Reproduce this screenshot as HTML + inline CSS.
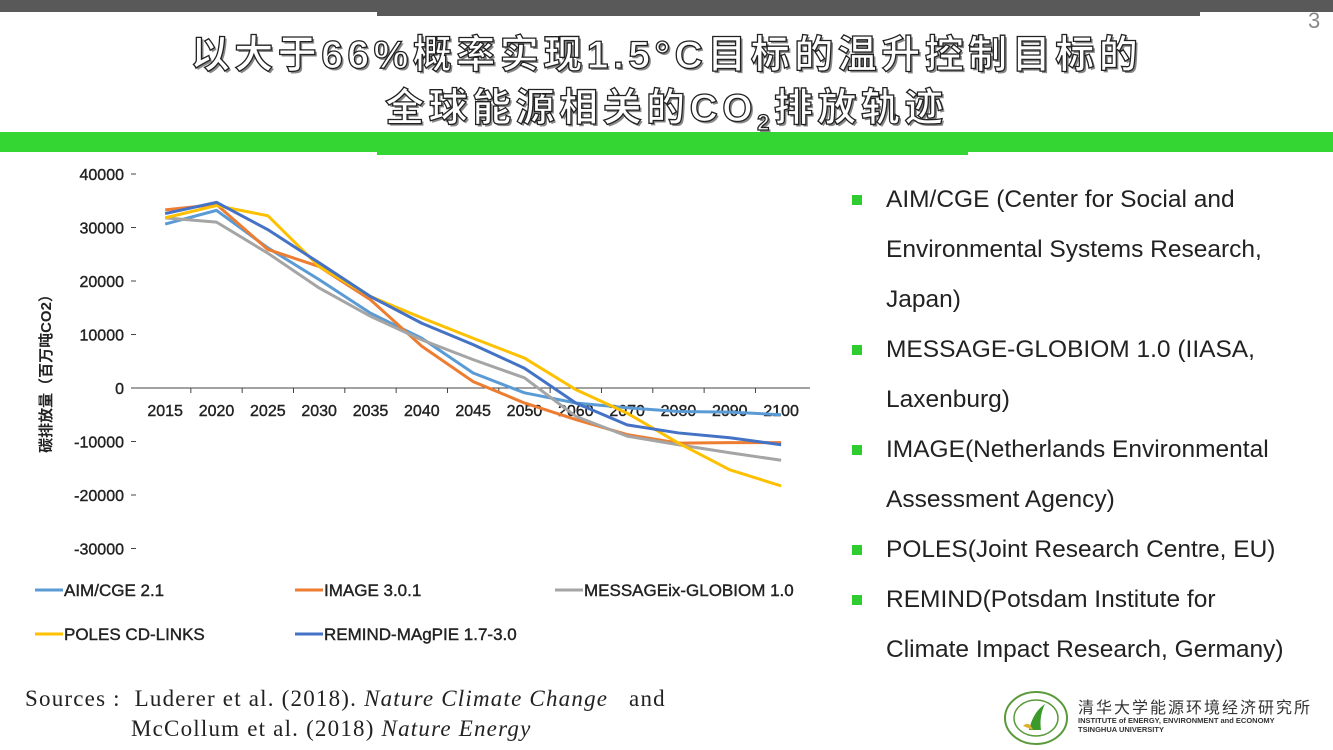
<!DOCTYPE html>
<html><head><meta charset="utf-8">
<style>
body{margin:0;width:1333px;height:750px;overflow:hidden;background:#fff;position:relative;font-family:"Liberation Sans","Noto Sans CJK SC",sans-serif;}
.abs{position:absolute;}
.title{left:0;width:1333px;text-align:center;font-size:39px;font-weight:bold;color:#fff;-webkit-text-stroke:1.3px #222;text-shadow:2px 2px 0 #888;letter-spacing:4.5px;}
.bul{left:852px;font-size:24.5px;color:#222;line-height:50px;}
.bul div{position:relative;padding-left:34px;}
.sq{position:absolute;left:0;top:20px;width:10px;height:10px;background:#2ecc2e;}
.src{font-family:"Liberation Serif","Noto Serif CJK SC",serif;font-size:23px;color:#222;letter-spacing:1.2px;}
</style></head><body>
<div class="abs" style="left:0;top:0;width:1333px;height:12px;background:#595959"></div>
<div class="abs" style="left:377px;top:0;width:823px;height:16px;background:#595959"></div>
<div class="abs" style="left:1308px;top:8px;font-size:22px;color:#888">3</div>
<div class="abs title" style="top:24px">以大于66%概率实现1.5°C目标的温升控制目标的</div>
<div class="abs title" style="top:77px">全球能源相关的CO<sub style="font-size:22px">2</sub>排放轨迹</div>
<div class="abs" style="left:0;top:132px;width:1333px;height:20px;background:#33d633"></div>
<div class="abs" style="left:377px;top:150px;width:591px;height:5px;background:#33d633"></div>

<svg class="abs" style="left:0;top:0" width="830" height="680" id="chart"></svg>

<div class="abs bul" style="top:175px">
<div><span class="sq"></span>AIM/CGE (Center for Social and<br>Environmental Systems Research,<br>Japan)</div>
<div><span class="sq"></span>MESSAGE-GLOBIOM 1.0 (IIASA,<br>Laxenburg)</div>
<div><span class="sq"></span>IMAGE(Netherlands Environmental<br>Assessment Agency)</div>
<div><span class="sq"></span>POLES(Joint Research Centre, EU)</div>
<div><span class="sq"></span>REMIND(Potsdam Institute for<br>Climate Impact Research, Germany)</div>
</div>

<div class="abs src" style="left:25px;top:686px">Sources :&nbsp; Luderer et al. (2018). <i>Nature Climate Change</i> &nbsp; and</div>
<div class="abs src" style="left:131px;top:716px">McCollum et al. (2018) <i>Nature Energy</i></div>

<svg class="abs" style="left:1003px;top:690px" width="66" height="56">
<ellipse cx="33" cy="28" rx="31" ry="26" fill="#fff" stroke="#5a9a3a" stroke-width="2"/>
<ellipse cx="33" cy="28" rx="22" ry="18" fill="#fff" stroke="#5a9a3a" stroke-width="1.5"/>
<path d="M26 40 Q30 22 42 14 Q36 26 38 40 Z" fill="#3c9a2a"/>
<path d="M20 36 Q26 30 30 40 Z" fill="#e0b030"/>
</svg>
<div class="abs" style="left:1078px;top:694px;font-size:16px;color:#333;letter-spacing:2px">清华大学能源环境经济研究所</div>
<div class="abs" style="left:1078px;top:716px;font-size:7.5px;color:#333;font-weight:bold;line-height:9px">INSTITUTE of ENERGY, ENVIRONMENT and ECONOMY<br>TSINGHUA UNIVERSITY</div>

<script>
const years=["2015","2020","2025","2030","2035","2040","2045","2050","2060","2070","2080","2090","2100"];
const yTicks=[40000,30000,20000,10000,0,-10000,-20000,-30000];
const aim=[30650,33200,26200,20250,14000,9300,2800,-900,-2800,-3700,-4400,-4500,-5000];
const image=[33300,34300,25900,22700,16500,7800,1200,-2800,-5900,-8700,-10300,-10200,-10200];
const message=[31800,31000,25200,18700,13400,9000,5300,1900,-5300,-9000,-10600,-12100,-13500];
const poles=[31800,34100,32200,22700,17100,13100,9300,5600,-300,-4700,-10300,-15300,-18300];
const remind=[32600,34700,29600,23400,17100,12100,8100,3700,-2800,-6900,-8400,-9300,-10600];
const seriesNames=["AIM/CGE 2.1","IMAGE 3.0.1","MESSAGEix-GLOBIOM 1.0","POLES CD-LINKS","REMIND-MAgPIE 1.7-3.0"];
const seriesColors=["#5b9bd5","#ed7d31","#a5a5a5","#ffc000","#4472c4"];
const allSeries=[aim,image,message,poles,remind];

const NS="http://www.w3.org/2000/svg";
const svg=document.getElementById('chart');
const x0=139.5, step=51.33;
const xs=i=>x0+step*(i+0.5);
const ys=v=>388-v/10000*53.5;
function mk(t,a,p){const e=document.createElementNS(NS,t);for(const k in a)e.setAttribute(k,a[k]);(p||svg).appendChild(e);return e;}
yTicks.forEach(v=>{
  const t=mk('text',{x:124,y:ys(v)+6,'text-anchor':'end','font-size':16,fill:'#222','stroke':'#222','stroke-width':0.4});
  t.textContent=v;
  
  
  mk('line',{x1:131,x2:136,y1:ys(v),y2:ys(v),stroke:'#444','stroke-width':1});
});
const ax=mk('line',{x1:134,x2:810,y1:ys(0),y2:ys(0),stroke:'#444','stroke-width':1});


years.forEach((y,i)=>{
  if(i>0) mk('line',{x1:x0+step*i,x2:x0+step*i,y1:ys(0),y2:ys(0)+5,stroke:'#444'});
  const t=mk('text',{x:xs(i),y:ys(0)+28,'text-anchor':'middle','font-size':16,fill:'#222','stroke':'#222','stroke-width':0.4});
  t.textContent=y;
  
  
});
const yt=mk('text',{x:0,y:0,transform:'translate(51,370) rotate(-90)','text-anchor':'middle','font-size':15,'font-weight':'bold',fill:'#222'});
yt.textContent='碳排放量（百万吨CO2）';


allSeries.forEach((s,k)=>{
  const p=mk('polyline',{points:s.map((v,i)=>xs(i)+','+ys(v)).join(' '),fill:'none',stroke:seriesColors[k],'stroke-width':3,'stroke-linejoin':'round'});
  
  
});
const legPos=[[35,590],[295,590],[555,590],[35,634],[295,634]];
seriesNames.forEach((n,k)=>{
  const [lx,ly]=legPos[k];
  const g=mk('g',{});
  
  
  mk('line',{x1:lx,x2:lx+28,y1:ly,y2:ly,stroke:seriesColors[k],'stroke-width':3},g);
  const t=mk('text',{x:lx+29,y:ly+6,'font-size':17,fill:'#222','stroke':'#222','stroke-width':0.4},g);
  t.textContent=n;
});
</script>
</body></html>
